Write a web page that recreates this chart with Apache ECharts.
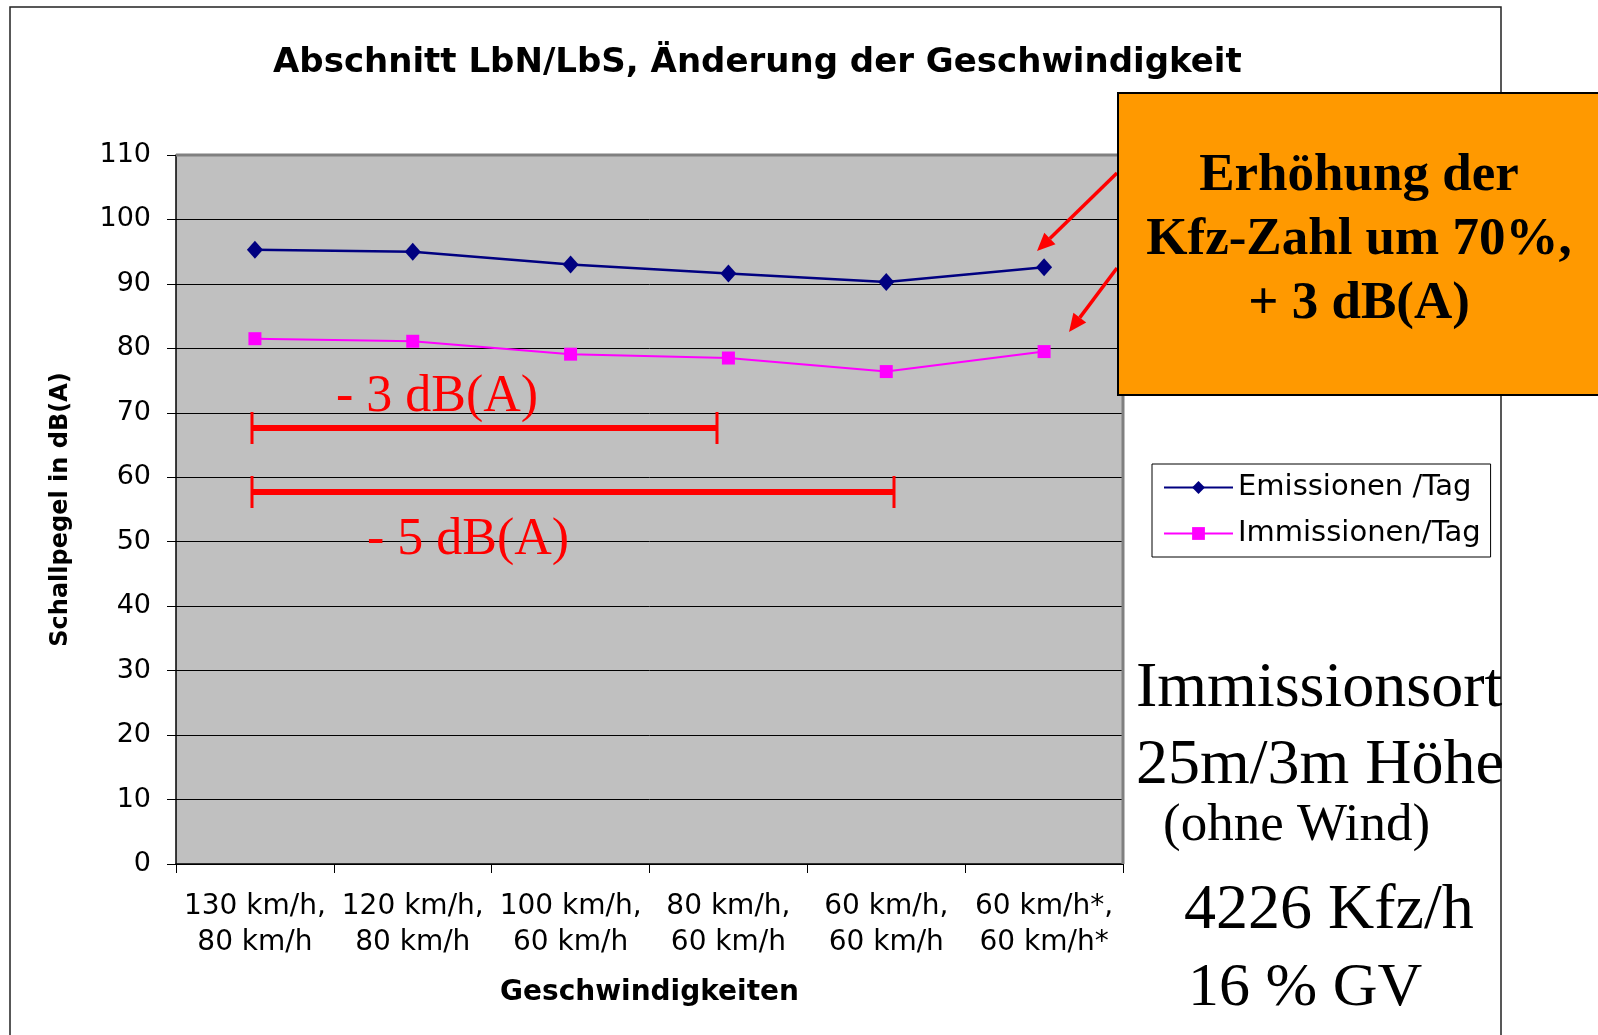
<!DOCTYPE html>
<html>
<head>
<meta charset="utf-8">
<script src="https://cdn.jsdelivr.net/npm/echarts@6/dist/echarts.min.js"></script>
<style>
html,body{margin:0;padding:0;background:#fff;}
#chart{width:1598px;height:1035px;}
</style>
</head>
<body>
<div id="chart"></div>
<script>
// ---- data ----
var categories = ['130 km/h,\n80 km/h', '120 km/h,\n80 km/h', '100 km/h,\n60 km/h', '80 km/h,\n60 km/h', '60 km/h,\n60 km/h', '60 km/h*,\n60 km/h*'];
var emissionen = [95.3, 95.0, 93.0, 91.6, 90.3, 92.6];
var immissionen = [81.5, 81.1, 79.1, 78.5, 76.4, 79.5];
var seriesNames = ['Emissionen /Tag', 'Immissionen/Tag'];
var yMin = 0, yMax = 110, yStep = 10;
var titleText = 'Abschnitt LbN/LbS, Änderung der Geschwindigkeit';
var xName = 'Geschwindigkeiten';
var yName = 'Schallpegel in dB(A)';
var boxLines = ['Erhöhung der', 'Kfz-Zahl um 70%,', '+ 3 dB(A)'];
var sideLines = ['Immissionsort', '25m/3m Höhe', '(ohne Wind)', '4226 Kfz/h', '16 % GV'];
var annot3 = '- 3 dB(A)';
var annot5 = '- 5 dB(A)';

var SANS = 'DejaVu Sans';
var SERIF = '"Liberation Serif", "Times New Roman", serif';

function arrow(x1, y1, x2, y2) {
  var dx = x2 - x1, dy = y2 - y1, L = Math.sqrt(dx*dx + dy*dy);
  var ux = dx / L, uy = dy / L, hl = 18, hw = 8;
  var bx = x2 - ux*hl, by = y2 - uy*hl, px = -uy, py = ux;
  return [
    {type:'line', shape:{x1:x1, y1:y1, x2:bx, y2:by}, style:{stroke:'#ff0000', lineWidth:3.5}, z:50},
    {type:'polygon', shape:{points:[[x2,y2],[bx+px*hw,by+py*hw],[bx-px*hw,by-py*hw]]}, style:{fill:'#ff0000'}, z:50}
  ];
}
function bracket(x1, x2, y) {
  return [
    {type:'line', shape:{x1:x1, y1:y, x2:x2, y2:y}, style:{stroke:'#ff0000', lineWidth:6}, z:40},
    {type:'line', shape:{x1:x1, y1:y-16, x2:x1, y2:y+16}, style:{stroke:'#ff0000', lineWidth:3}, z:40},
    {type:'line', shape:{x1:x2, y1:y-16, x2:x2, y2:y+16}, style:{stroke:'#ff0000', lineWidth:3}, z:40}
  ];
}

var graphics = [];
// outer frame
graphics.push({type:'rect', shape:{x:10, y:7, width:1491, height:1040}, style:{fill:null, stroke:'#222', lineWidth:1.5}, z:-10, silent:true});
// plot shadow edges
graphics.push({type:'line', shape:{x1:176, y1:155, x2:1123, y2:155}, style:{stroke:'#808080', lineWidth:3}, z:5});
graphics.push({type:'line', shape:{x1:1123, y1:155, x2:1123, y2:864}, style:{stroke:'#808080', lineWidth:3}, z:5});
// red brackets
graphics = graphics.concat(bracket(252, 717, 428));
graphics = graphics.concat(bracket(252, 894, 492));
graphics.push({type:'text', style:{text:annot3, x:336, y:413 - 16, fill:'#ff0000', font:'52px ' + SERIF, textAlign:'left', textVerticalAlign:'middle'}, z:45});
graphics.push({type:'text', style:{text:annot5, x:367, y:556 - 16, fill:'#ff0000', font:'52px ' + SERIF, textAlign:'left', textVerticalAlign:'middle'}, z:45});
// orange box
graphics.push({type:'rect', shape:{x:1118, y:93, width:500, height:302}, style:{fill:'#ff9900', stroke:'#000', lineWidth:2}, z:60});
for (var i = 0; i < boxLines.length; i++) {
  graphics.push({type:'text', style:{text:boxLines[i], x:1359, y:194 + i*64 - 18, fill:'#000', font:'bold 53px ' + SERIF, textAlign:'center', textVerticalAlign:'middle'}, z:61});
}
// arrows
graphics = graphics.concat(arrow(1117, 173, 1037, 251));
graphics = graphics.concat(arrow(1117, 268, 1069, 332));
// side text
var sideX = [1136, 1136, 1163, 1184, 1188];
var sideY = [710, 787, 844, 932, 1009];
var sideSize = [64, 64, 53, 64, 62];
for (var j = 0; j < sideLines.length; j++) {
  graphics.push({type:'text', style:{text:sideLines[j], x:sideX[j], y:sideY[j] - sideSize[j]*0.33, fill:'#000', font:sideSize[j] + 'px ' + SERIF, textAlign:'left', textVerticalAlign:'middle'}, z:30});
}

var chart = echarts.init(document.getElementById('chart'), null, {renderer:'canvas'});
chart.setOption({
  backgroundColor:'#ffffff',
  animation:false,
  title:{text:titleText, left:273, top:46, padding:0, textStyle:{fontFamily:SANS, fontWeight:'bold', fontSize:34, color:'#000'}},
  grid:{left:176, right:475, top:155, bottom:171, show:true, backgroundColor:'#c0c0c0', borderWidth:0},
  legend:{
    orient:'vertical', left:1152, top:464, width:339,
    backgroundColor:'#ffffff', borderColor:'#000', borderWidth:1,
    padding:[9, 10, 9, 11], itemGap:17, itemWidth:69, itemHeight:16,
    textStyle:{fontFamily:SANS, fontSize:29, color:'#000', lineHeight:28},
    data:seriesNames
  },
  xAxis:{
    type:'category', data:categories, boundaryGap:true,
    axisLine:{lineStyle:{color:'#000', width:1.5}},
    axisTick:{show:true, length:9, lineStyle:{color:'#000'}},
    axisLabel:{fontFamily:SANS, fontSize:28, color:'#000', lineHeight:36, margin:25, interval:0},
    name:xName, nameLocation:'middle', nameGap:115,
    nameTextStyle:{fontFamily:SANS, fontWeight:'bold', fontSize:28, color:'#000'}
  },
  yAxis:{
    type:'value', min:yMin, max:yMax, interval:yStep,
    axisLine:{show:true, lineStyle:{color:'#000', width:1.5}},
    axisTick:{show:true, length:9, lineStyle:{color:'#000'}},
    axisLabel:{fontFamily:SANS, fontSize:27, color:'#000', margin:25},
    splitLine:{show:true, lineStyle:{color:'#000', width:1}},
    name:yName, nameLocation:'middle', nameGap:103, nameRotate:90,
    nameTextStyle:{fontFamily:SANS, fontWeight:'bold', fontSize:24, color:'#000'}
  },
  series:[
    {name:seriesNames[0], type:'line', data:emissionen, symbol:'diamond', symbolSize:[16,18],
     itemStyle:{color:'#000080'}, lineStyle:{color:'#000080', width:2.5}, z:10},
    {name:seriesNames[1], type:'line', data:immissionen, symbol:'rect', symbolSize:13,
     itemStyle:{color:'#ff00ff'}, lineStyle:{color:'#ff00ff', width:2}, z:10}
  ],
  graphic:graphics
});
</script>
</body>
</html>
